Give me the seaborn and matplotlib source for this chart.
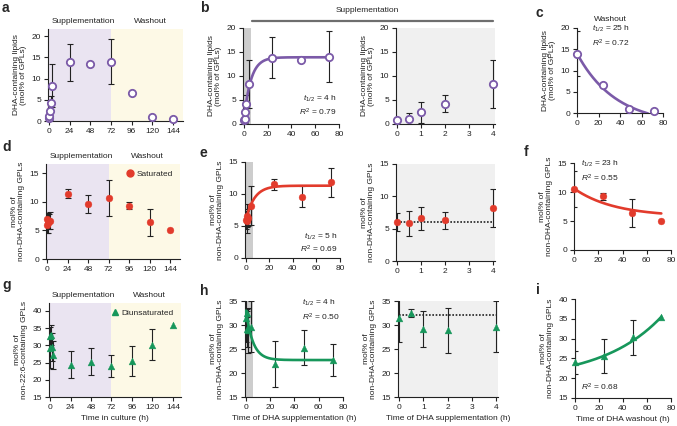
import numpy as np
import matplotlib
matplotlib.use('Agg')
import matplotlib.pyplot as plt
import seaborn as sns
from matplotlib.lines import Line2D

sns.set_style('ticks')
plt.rcParams['font.family'] = ['Liberation Sans', 'DejaVu Sans']
plt.rcParams['mathtext.fontset'] = 'custom'
plt.rcParams['mathtext.rm'] = 'Liberation Sans'
plt.rcParams['mathtext.it'] = 'Liberation Sans:italic'

# ---- data ----
t_supp = [0, 0.5, 1, 2, 4, 24, 48, 72]      # h of DHA supplementation
t_wash = [0, 24, 48, 72]                    # h of DHA washout
t_culture_wash = [96, 120, 144]             # culture time after washout

# DHA-containing lipids
dha_supp = [0.8, 1.1, 2.4, 4.2, 8.3, 13.8, 13.4, 14.0]
dha_supp_sd = [0.3, 1.2, 2.2, 1.8, 5.0, 4.3, 0, 5.3]
dha_wash = [14.0, 6.5, 1.0, 0.4]
dha_wash_sd = [5.3, 0, 0, 0]

# saturated (panel d, culture time)
sat_culture = [6.9, 6.0, 6.3, 6.6, 6.7, 11.4, 9.6, 10.6]
sat_culture_sd = [1.2, 1.4, 1.8, 1.3, 1.5, 0.8, 1.6, 3.1]
sat_culture_wash = [9.3, 6.4, 5.0]
sat_culture_wash_sd = [0.6, 2.4, 0]
# saturated (panels e, f)
sat_supp = [6.0, 5.8, 6.6, 6.3, 8.2, 11.5, 9.6, 11.8]
sat_supp_sd = [1.4, 1.9, 1.8, 1.3, 3.0, 0.8, 1.6, 2.3]
sat_wash = [10.6, 9.3, 6.4, 5.0]
sat_wash_sd = [3.1, 0.6, 2.4, 0]
sat_baseline = 6.0

# diunsaturated (panel g, culture time)
di_culture = [29.3, 32.7, 33.0, 29.5, 27.2, 24.4, 25.3, 24.0]
di_culture_sd = [5.9, 1.0, 3.0, 4.0, 4.0, 4.0, 3.8, 3.1]
di_culture_wash = [25.5, 30.2, 35.8]
di_culture_wash_sd = [4.3, 4.5, 0]
# diunsaturated (panels h, i)
di_supp = [31.5, 32.5, 29.2, 28.9, 29.6, 21.8, 25.3, 22.7]
di_supp_sd = [5.0, 0.9, 3.8, 4.7, 5.3, 4.8, 3.7, 3.4]
di_wash = [24.0, 25.5, 30.3, 35.5]
di_wash_sd = [2.9, 4.3, 4.4, 0]
di_baseline = 32.0

# one-phase fit parameters: (y0, plateau, half-life)
fit_b = (0.8, 13.9, 4)
fit_c = (14.0, -2.8, 25)
fit_e = (6.0, 11.3, 5)
fit_f = (10.6, 5.75, 23)
fit_h = (33.0, 22.7, 4)
fit_i = (23.3, 19.5, -34.7)

# ---- colours ----
PURPLE = '#7B5AA8'
RED = '#E23B2C'
GREEN = '#17975B'
LAV = '#EAE4F1'
YEL = '#FDF9E6'
BAND = '#CDCDCD'
LGRAY = '#F0F0F0'
INK = '#222222'

W, H = 677, 426
fig = plt.figure(figsize=(W / 100, H / 100), dpi=100)


def add_ax(l, t, r, b):
    return fig.add_axes([l / W, 1 - b / H, (r - l) / W, (b - t) / H])


def one_phase(t, y0, plateau, half):
    return plateau + (y0 - plateau) * np.exp(-np.log(2) / half * t)


def style(ax, xlim, ylim, xticks, yticks, ylabel, xlabel=None):
    ax.set_xlim(*xlim)
    ax.set_ylim(*ylim)
    ax.set_xticks(xticks)
    ax.set_yticks(yticks)
    sns.despine(ax=ax)
    for s in ['left', 'bottom']:
        ax.spines[s].set_linewidth(0.8)
        ax.spines[s].set_color(INK)
    ax.tick_params(length=3, width=0.8, pad=2, labelsize=6, colors=INK)
    ax.set_ylabel(ylabel, fontsize=6, labelpad=3, color=INK, linespacing=1.1)
    if xlabel:
        ax.set_xlabel(xlabel, fontsize=6, labelpad=3, color=INK)


def points(ax, x, y, sd, color, marker, filled=True, s=24):
    x = np.asarray(x, float)
    y = np.asarray(y, float)
    sd = np.asarray(sd, float)
    m = sd > 0
    ax.errorbar(x[m], y[m], yerr=sd[m], fmt='none', ecolor=INK, elinewidth=0.8,
                capsize=2.5, capthick=0.8, zorder=2)
    sns.scatterplot(x=x, y=y, ax=ax, marker=marker, s=s,
                    color='white' if not filled else color,
                    edgecolor=color, linewidth=1.3 if not filled else 0.3,
                    zorder=4, clip_on=False, legend=False)


def fitline(ax, tmax, params, color):
    tt = np.linspace(0, tmax, 200)
    sns.lineplot(x=tt, y=one_phase(tt, *params), ax=ax, color=color, lw=1.9, zorder=3)


def phases(ax):
    ax.axvspan(-10, 72, color=LAV, zorder=0, lw=0)
    ax.axvspan(72, 200, color=YEL, zorder=0, lw=0)
    ax.text(0.26, 1.04, 'Supplementation', transform=ax.transAxes, ha='center',
            va='bottom', fontsize=6, color=INK)
    ax.text(0.76, 1.04, 'Washout', transform=ax.transAxes, ha='center',
            va='bottom', fontsize=6, color=INK)


def letter(x, y, s):
    fig.text(x / W, 1 - y / H, s, fontsize=10, fontweight='bold', va='top', ha='left')


def kin(ax, x, y, txt, ha='left'):
    ax.text(x, y, txt, transform=ax.transAxes, ha=ha, va='center', fontsize=6, color=INK)


culture_x = [0, 24, 48, 72, 96, 120, 144]
dha_lab = 'DHA-containing lipids\n(mol% of GPLs)'
non_lab = 'mol% of\nnon-DHA-containing GPLs'
non226_lab = 'mol% of\nnon-22:6-containing GPLs'
t_full = t_supp + t_culture_wash

# ---------------- row 1 ----------------
ax = add_ax(48, 29, 183, 121)
phases(ax)
points(ax, t_full, dha_supp + dha_wash[1:], dha_supp_sd + dha_wash_sd[1:], PURPLE, 'o', False, 28)
style(ax, (-1.2, 155.6), (0, 21.65), culture_x, [0, 5, 10, 15, 20], dha_lab)

ax = add_ax(243, 28, 339, 124)
ax.axvspan(0, 6, color=BAND, zorder=0, lw=0)
fitline(ax, 72, fit_b, PURPLE)
points(ax, t_supp, dha_supp, dha_supp_sd, PURPLE, 'o', False, 28)
style(ax, (-0.8, 80), (0, 20), [0, 20, 40, 60, 80], [0, 5, 10, 15, 20], dha_lab)
kin(ax, 0.97, 0.26, r'$t_{1/2}$ = 4 h', 'right')
kin(ax, 0.97, 0.12, r'$R^2$ = 0.79', 'right')

ax = add_ax(396, 28, 495, 124)
ax.set_facecolor(LGRAY)
points(ax, t_supp[:5], dha_supp[:5], dha_supp_sd[:5], PURPLE, 'o', False, 28)
style(ax, (-0.04, 4.08), (0, 20), [0, 1, 2, 3, 4], [0, 5, 10, 15, 20], dha_lab)

fig.text(367 / W, 1 - 10 / H, 'Supplementation', ha='center', va='center', fontsize=6, color=INK)
fig.add_artist(Line2D([252 / W, 493 / W], [1 - 21 / H, 1 - 21 / H], color='#6E6E6E', lw=1.6))

ax = add_ax(577, 28, 663, 113)
fitline(ax, 66, fit_c, PURPLE)
points(ax, t_wash, dha_wash, dha_wash_sd, PURPLE, 'o', False, 28)
style(ax, (0, 80), (0, 20), [0, 20, 40, 60, 80], [0, 5, 10, 15, 20], dha_lab)
ax.text(0.39, 1.06, 'Washout', transform=ax.transAxes, ha='center', va='bottom', fontsize=6, color=INK)
kin(ax, 0.17, 0.99, r'$t_{1/2}$ = 25 h')
kin(ax, 0.17, 0.82, r'$R^2$ = 0.72')

# ---------------- row 2 ----------------
ax = add_ax(46, 164, 180, 259)
phases(ax)
points(ax, t_full, sat_culture + sat_culture_wash, sat_culture_sd + sat_culture_wash_sd, RED, 'o', True, 24)
style(ax, (-1.2, 155.7), (0, 16.57), culture_x, [0, 5, 10, 15], non_lab)
ax.legend(handles=[Line2D([], [], ls='', marker='o', ms=5, color=RED, label='Saturated')],
          loc='upper right', bbox_to_anchor=(0.99, 1.0), frameon=False, fontsize=6,
          handletextpad=0.2, handlelength=1.2, borderaxespad=0.3)

ax = add_ax(245, 162, 340, 258)
ax.axvspan(0, 6, color=BAND, zorder=0, lw=0)
fitline(ax, 72, fit_e, RED)
points(ax, t_supp, sat_supp, sat_supp_sd, RED, 'o', True, 24)
style(ax, (-0.8, 80), (0, 15), [0, 20, 40, 60, 80], [0, 5, 10, 15], non_lab)
kin(ax, 0.97, 0.22, r'$t_{1/2}$ = 5 h', 'right')
kin(ax, 0.97, 0.09, r'$R^2$ = 0.69', 'right')

ax = add_ax(396, 164, 495, 261)
ax.set_facecolor(LGRAY)
ax.hlines(sat_baseline, 0, 4, colors=INK, linestyles=(0, (1, 1)), lw=1.2, zorder=1)
points(ax, t_supp[:5], sat_supp[:5], sat_supp_sd[:5], RED, 'o', True, 24)
style(ax, (-0.04, 4.08), (0, 15), [0, 1, 2, 3, 4], [0, 5, 10, 15], non_lab)

ax = add_ax(574, 163, 671, 250)
fitline(ax, 72, fit_f, RED)
points(ax, t_wash, sat_wash, sat_wash_sd, RED, 'o', True, 24)
style(ax, (0, 80), (0, 15), [0, 20, 40, 60, 80], [0, 5, 10, 15], non_lab)
kin(ax, 0.07, 0.99, r'$t_{1/2}$ = 23 h')
kin(ax, 0.07, 0.82, r'$R^2$ = 0.55')

# ---------------- row 3 ----------------
ax = add_ax(49, 303, 181, 397)
phases(ax)
points(ax, t_full, di_culture + di_culture_wash, di_culture_sd + di_culture_wash_sd, GREEN, '^', True, 24)
style(ax, (-1.2, 153.5), (15, 42.3), culture_x, [15, 20, 25, 30, 35, 40], non226_lab,
      'Time in culture (h)')
ax.legend(handles=[Line2D([], [], ls='', marker='^', ms=5, color=GREEN, label='Diunsaturated')],
          loc='upper right', bbox_to_anchor=(0.99, 1.0), frameon=False, fontsize=6,
          handletextpad=0.2, handlelength=1.2, borderaxespad=0.3)

ax = add_ax(245, 301, 343, 397)
ax.axvspan(0, 6, color=BAND, zorder=0, lw=0)
fitline(ax, 72, fit_h, GREEN)
points(ax, t_supp, di_supp, di_supp_sd, GREEN, '^', True, 24)
style(ax, (-0.8, 80), (15, 35), [0, 20, 40, 60, 80], [15, 20, 25, 30, 35], non_lab,
      'Time of DHA supplementation (h)')
kin(ax, 0.58, 0.98, r'$t_{1/2}$ = 4 h')
kin(ax, 0.58, 0.83, r'$R^2$ = 0.50')

ax = add_ax(398, 301, 498, 397)
ax.set_facecolor(LGRAY)
ax.hlines(di_baseline, 0, 4, colors=INK, linestyles=(0, (1, 1)), lw=1.2, zorder=1)
points(ax, t_supp[:5], di_supp[:5], di_supp_sd[:5], GREEN, '^', True, 24)
style(ax, (-0.04, 4.08), (15, 35), [0, 1, 2, 3, 4], [15, 20, 25, 30, 35], non_lab,
      'Time of DHA supplementation (h)')

ax = add_ax(575, 299, 671, 398)
fitline(ax, 72, fit_i, GREEN)
points(ax, t_wash, di_wash, di_wash_sd, GREEN, '^', True, 24)
style(ax, (0, 80), (15, 40), [0, 20, 40, 60, 80], [15, 20, 25, 30, 35, 40], non_lab,
      'Time of DHA washout (h)')
kin(ax, 0.06, 0.11, r'$R^2$ = 0.68')

# panel letters
letter(2, 1, 'a')
letter(200, 1, 'b')
letter(535, 6, 'c')
letter(2, 140, 'd')
letter(199, 146, 'e')
letter(524, 145, 'f')
letter(2, 278, 'g')
letter(200, 284, 'h')
letter(536, 283, 'i')

fig.savefig('out.png', dpi=100)
